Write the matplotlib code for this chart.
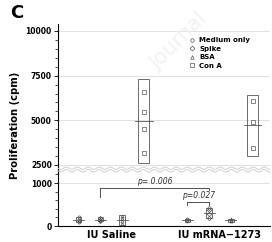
import numpy as np
import matplotlib
matplotlib.use("Agg")
import matplotlib.pyplot as plt
from matplotlib.lines import Line2D

# data (cpm)
groups = ["IU Saline", "IU mRNA\u22121273"]
stimuli = ["Medium only", "Spike", "BSA", "Con A"]
markers = ["o", "D", "^", "s"]

saline_points = [[210, 150, 120, 100], [190, 150, 130, 110], [240, 190, 110, 40], [6590, 5470, 4510, 3170]]
saline_mean = [150, 150, 140, 4960]
saline_low = [86, 105, 23, 2610]
saline_high = [210, 198, 256, 7310]

mrna_points = [[160, 130, 110], [410, 370, 280, 180], [160, 130, 110], [6080, 4900, 3450]]
mrna_mean = [132, 296, 132, 4750]
mrna_low = [100, 179, 100, 3000]
mrna_high = [163, 412, 163, 6420]

bracket1 = (0, 1, 1, 1, 885, "p= 0.006")  # group0 spike vs group1 spike
bracket2 = (1, 0, 1, 1, 566, "p=0.027")

W, H = 272, 242
fig = plt.figure(figsize=(W / 100, H / 100), dpi=100)

def fx(px):
    return px / W

def fy(py):
    return 1 - py / H

ax_top = fig.add_axes([fx(58), fy(170), fx(270) - fx(58), fy(24) - fy(170)])
ax_bot = fig.add_axes([fx(58), fy(226), fx(270) - fx(58), fy(173) - fy(226)])

ax_top.set_ylim(2220, 10390)
ax_bot.set_ylim(0, 1233)
step = 0.2
offsets = [-1.5 * step, -0.5 * step, 0.5 * step, 1.5 * step]
for ax in (ax_top, ax_bot):
    ax.set_xlim(-0.49, 1.46)
    for s in ["top", "right"]:
        ax.spines[s].set_visible(False)
    ax.spines["left"].set_linewidth(0.8)
    ax.tick_params(axis="y", labelsize=5.5, length=3, width=0.6, pad=1.5)
    ax.tick_params(axis="y", which="minor", length=2, width=0.5)

ax_top.spines["bottom"].set_visible(False)
ax_top.set_xticks([])
ax_top.set_yticks([2500, 5000, 7500, 10000])
ax_top.set_yticks(np.arange(2500, 10001, 500), minor=True)
ax_top.set_yticklabels(["2500", "5000", "7500", "10000"], fontweight="bold")
ax_bot.set_yticks([0, 1000])
ax_bot.set_yticks(np.arange(0, 1201, 200), minor=True)
ax_bot.set_yticklabels(["0", "1000"], fontweight="bold")
ax_bot.spines["bottom"].set_linewidth(0.8)
ax_bot.set_xticks([0, 1])
ax_bot.set_xticklabels(groups, fontsize=7, fontweight="bold")
ax_bot.tick_params(axis="x", length=0, pad=3)

for ax in (ax_top, ax_bot):
    ax.grid(axis="y", which="major", color="#dcdcdc", linewidth=0.6)
    ax.set_axisbelow(True)

edge = "#555555"
all_sets = [(saline_points, saline_mean, saline_low, saline_high),
            (mrna_points, mrna_mean, mrna_low, mrna_high)]
for g, (pts, mean, low, high) in enumerate(all_sets):
    for k in range(4):
        x = g + offsets[k]
        ax = ax_top if k == 3 else ax_bot
        bw = 0.05 if k == 3 else 0.025
        lw = 0.08 if k == 3 else 0.05
        ax.add_patch(plt.Rectangle((x - bw, low[k]), 2 * bw, high[k] - low[k],
                                   fill=False, edgecolor=edge, linewidth=0.6, zorder=3))
        ax.plot([x - lw, x + lw], [mean[k], mean[k]], color=edge, linewidth=0.6, zorder=3)
        ax.plot([x] * len(pts[k]), pts[k], linestyle="none", marker=markers[k],
                markersize=2.2, markerfacecolor="none", markeredgecolor=edge,
                markeredgewidth=0.5, zorder=4)

# significance brackets
x1 = bracket1[0] + offsets[bracket1[1]]
x2 = bracket1[2] + offsets[bracket1[3]]
yv = bracket1[4]
ax_bot.plot([x1, x1, x2, x2], [yv - 200, yv, yv, yv - 40], color="#333333", linewidth=0.6, zorder=3)
ax_bot.text(0.4, yv + 40, bracket1[5], ha="center", va="bottom",
            fontsize=5.5, style="italic", color="#333333")

x1 = bracket2[0] + offsets[bracket2[1]]
x2 = bracket2[2] + offsets[bracket2[3]]
yv = bracket2[4]
ax_bot.plot([x1, x1, x2, x2], [yv - 70, yv, yv, yv - 70], color="#333333", linewidth=0.6, zorder=3)
ax_bot.text((x1 + x2) / 2, yv + 40, bracket2[5], ha="center", va="bottom",
            fontsize=5.5, style="italic", color="#333333")

# left spine across the break
fig.add_artist(Line2D([fx(58), fx(58)], [fy(174), fy(169)], color="black", linewidth=0.8))

# wavy break band
xs = np.linspace(58, 270, 400)
wave = 1.2 * np.sin((xs - 58) / 11.0 * 2 * np.pi)
for base in (168.2, 170.8):
    fig.add_artist(Line2D(fx(xs), fy(base + wave), color="#c8c8c8", linewidth=0.6))

# legend
handles = [Line2D([], [], linestyle="none", marker=m, markersize=2.5, markerfacecolor="none",
                  markeredgecolor=edge, markeredgewidth=0.5) for m in markers]
leg = fig.legend(handles, stimuli, loc="upper left", bbox_to_anchor=(fx(186), fy(34)),
                 frameon=False, fontsize=5, handlelength=0.8, handletextpad=0.6,
                 labelspacing=0.35, borderpad=0)
for t in leg.get_texts():
    t.set_fontweight("bold")

fig.text(fx(15), fy(125), "Proliferation (cpm)", rotation=90, ha="center", va="center",
         fontsize=7.2, fontweight="bold")
fig.text(fx(10), fy(13), "C", ha="left", va="center", fontsize=13, fontweight="bold")
fig.text(fx(178), fy(42), "Journal", rotation=45, ha="center", va="center",
         fontsize=15, color="#f2f2f2", zorder=0)

fig.savefig("out.png", dpi=100)
